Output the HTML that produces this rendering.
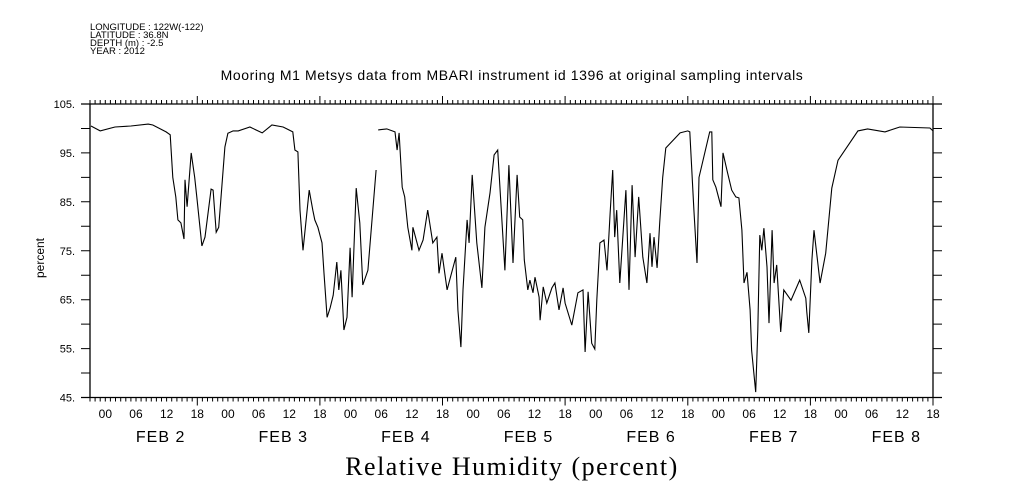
<!DOCTYPE html>
<html><head><meta charset="utf-8"><style>
html,body{margin:0;padding:0;background:#fff;}
svg{display:block;font-family:"Liberation Sans",sans-serif;}
</style></head><body>
<svg id="chart" width="1009" height="504" viewBox="0 0 1009 504" xmlns="http://www.w3.org/2000/svg">
<g font-size="9.5" fill="#000">
<text x="90" y="30">LONGITUDE : 122W(-122)</text>
<text x="90" y="38">LATITUDE : 36.8N</text>
<text x="90" y="46">DEPTH (m) : -2.5</text>
<text x="90" y="54">YEAR : 2012</text>
</g>
<text x="512" y="80" text-anchor="middle" font-size="14" letter-spacing="0.6">Mooring M1 Metsys data from MBARI instrument id 1396 at original sampling intervals</text>
<text x="512" y="475" text-anchor="middle" font-size="26" letter-spacing="1.5" font-family="Liberation Serif, serif">Relative Humidity (percent)</text>
<text transform="translate(44,258) rotate(-90)" text-anchor="middle" font-size="12">percent</text>
<g id="axes"></g>
<g id="series"></g>
</svg>
<script>
// hours since Feb 1 21:00
const times=[0.2,2.0,4.9,8.0,11.4,12.3,14.9,15.7,16.2,16.8,17.2,17.8,18.4,18.6,19.0,19.8,20.5,20.9,21.9,22.5,23.7,24.1,24.7,25.2,26.4,27.0,28.0,29.0,31.3,33.7,35.6,37.8,39.7,40.1,40.7,41.1,41.5,41.7,42.9,43.6,44.0,44.6,45.4,45.8,46.4,47.0,47.6,48.3,48.7,49.1,49.7,50.3,50.9,51.3,52.1,52.8,53.4,54.4,56.0,56.2,
56.4,58.1,59.7,60.1,60.5,61.1,61.6,62.2,63.0,63.2,64.4,65.2,66.1,67.1,67.9,68.3,68.9,69.9,70.5,71.6,72.0,72.6,73.0,73.8,74.2,74.8,75.7,76.7,77.3,78.3,79.1,79.8,81.2,82.0,82.8,83.6,84.1,84.7,85.0,85.7,86.1,86.7,87.1,87.9,88.1,88.7,89.4,90.4,91.0,91.8,92.6,93.0,94.3,95.5,96.5,96.9,97.5,98.2,98.8,99.2,99.8,100.6,101.2,101.8,102.3,102.7,103.1,103.7,104.9,105.5,106.1,106.7,107.4,108.2,109.0,109.6,110.0,110.4,111.0,111.5,112.1,112.7,115.5,117.0,117.4,118.2,118.8,119.2,121.3,121.7,121.9,122.5,123.5,123.9,124.8,125.6,126.4,127.0,127.6,128.0,128.6,129.2,129.5,130.3,130.7,131.1,131.5,131.9,132.5,132.9,133.5,133.9,134.4,135.2,135.8,137.2,138.9,140.1,140.3,140.7,141.3,141.7,142.9,144.0,145.2,146.4,150.3,152.2,155.6,158.5,164.4,165.0];
const rh=[100.5,99.5,100.3,100.5,100.9,100.7,99.3,98.7,90,86,81.3,80.7,77.4,89.5,84,95,90,86,76,77.8,87.6,87.4,78.8,79.8,96.2,99,99.5,99.5,100.3,99.1,100.7,100.3,99.3,95.6,95.2,83.3,77.8,75.1,87.4,83.3,81.3,79.8,76.6,70.4,61.4,63.3,65.9,72.7,67,71,58.8,61.4,75.6,65.5,87.8,80.7,68,71,91.5,null,
99.7,99.9,99.3,95.6,99.1,88,86,79.8,75.1,79.8,75.1,77.2,83.3,76.6,77.8,70.4,74.5,67,69.4,73.7,62.9,55.3,67,81.3,76.6,90.5,76.6,67.4,79.8,86.8,94.6,95.6,71,92.5,72.5,90.5,81.9,81.3,73.1,67,69,66.4,69.6,65.5,60.8,67.6,64.3,67.4,68.4,62.9,67.4,64.3,59.8,66.4,67,54.3,66.6,56.1,54.9,64.9,76.6,77.2,71,82.6,91.5,77.8,83.3,68.4,87.4,67,88.4,73.7,86,73.7,68.4,78.6,71.7,77.8,71.5,80.7,90,96,99.1,99.5,99.3,83.3,72.5,90,99.3,99.3,89.5,88,84,95,90.9,87.4,86,85.8,79.2,68.4,70.6,62.9,54.7,46.1,58.8,78.2,75.1,79.6,71.7,60.2,79.2,68.4,72.1,58.4,67,64.9,69,65.3,62.5,58.2,73.1,79.2,68.4,74.5,87.8,93.5,99.5,99.9,99.3,100.3,100.1,99.5,99.3];
const yTicks=[105,95,85,75,65,55,45];
const hourLabels=["00","06","12","18"];
const dayLabels=["FEB  2","FEB  3","FEB  4","FEB  5","FEB  6","FEB  7","FEB  8"];
const X0=90,X1=933,Y0=104,Y1=397.5,TMAX=165,VMIN=45,VMAX=105;
const xs=t=>X0+(X1-X0)*t/TMAX;
const ys=v=>Y0+(Y1-Y0)*(VMAX-v)/(VMAX-VMIN);
const NS="http://www.w3.org/2000/svg";
const axes=document.getElementById('axes'),ser=document.getElementById('series');
function mk(tag,attrs,parent){const e=document.createElementNS(NS,tag);for(const k in attrs)e.setAttribute(k,attrs[k]);parent.appendChild(e);return e;}
let d="";
for(let h=0;h<=TMAX;h++){
  const x=xs(h).toFixed(1);
  const big=((h+3)%24===0);
  d+=`M${x},${Y0}v${big?-8:-4}M${x},${Y1}v${big?8:4}`;
}
for(let v=VMIN;v<=VMAX;v+=5){const y=ys(v).toFixed(1);d+=`M${X0},${y}h-9M${X1},${y}h9`;}
const tk=mk('path',{d:d,stroke:'#000','stroke-width':1,fill:'none'},axes);


const fr=mk('path',{d:`M${X0-9},${Y0}H${X1+9}M${X0-9},${Y1}H${X1+9}M${X0},${Y0}V${Y1}M${X1},${Y0}V${Y1}`,stroke:'#000','stroke-width':1.3,fill:'none'},axes);


yTicks.forEach(v=>{const t=mk('text',{x:75,y:ys(v)+4,'text-anchor':'end','font-size':11},axes);t.textContent=v+".";

});
for(let h=3,i=0;h<=TMAX;h+=6,i++){const t=mk('text',{x:xs(h),y:418,'text-anchor':'middle','font-size':12},axes);t.textContent=hourLabels[i%4];

}
dayLabels.forEach((s,i)=>{const t=mk('text',{x:xs(3+24*i+12)-6,y:442,'text-anchor':'middle','font-size':16,'letter-spacing':1},axes);t.setAttribute('xml:space','preserve');t.textContent=s;

});
let p="",pen=false;
for(let i=0;i<times.length;i++){
  if(rh[i]===null){pen=false;continue;}
  p+=(pen?"L":"M")+xs(times[i]).toFixed(1)+","+ys(rh[i]).toFixed(1);pen=true;
}
const ln=mk('path',{d:p,stroke:'#000','stroke-width':1.1,fill:'none'},ser);


</script>
</body></html>
